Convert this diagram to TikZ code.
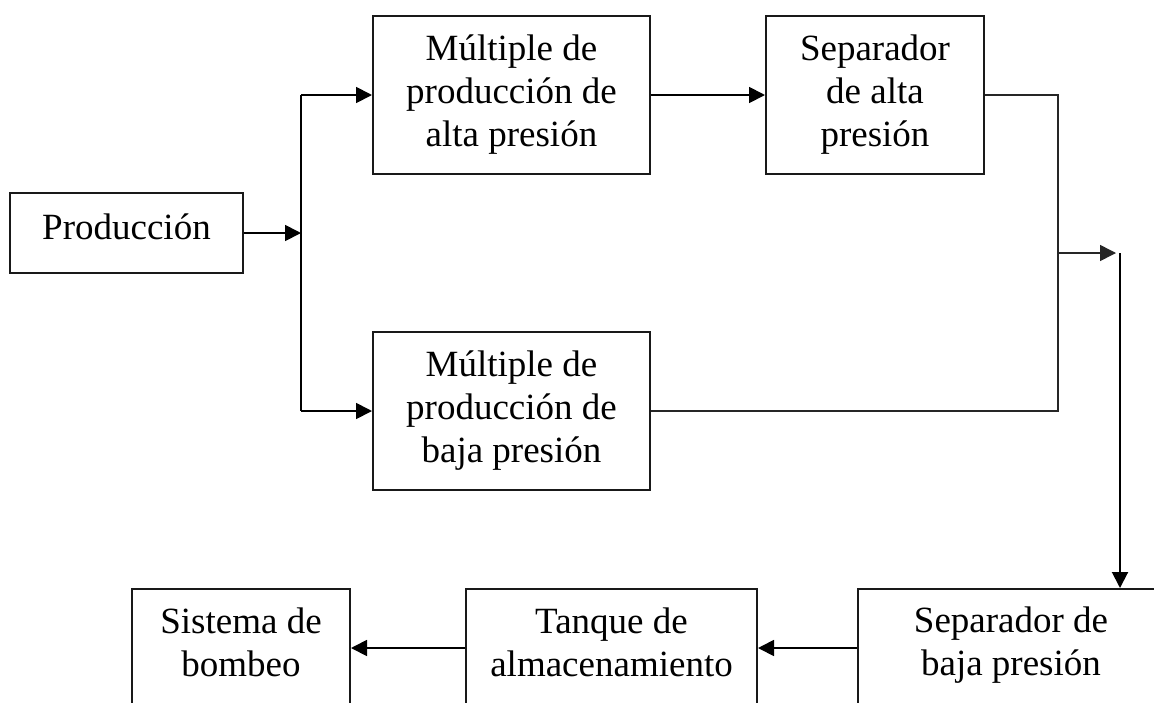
\documentclass[tikz,border=0pt]{standalone}
\usepackage{fontspec}
\setmainfont{Liberation Serif}
\usetikzlibrary{arrows.meta}
\tikzset{
  box/.style={draw=black!90, line width=2pt, rectangle, inner sep=0pt, align=center,
    font=\fontsize{37}{43}\selectfont},
  conn/.style={draw=black, line width=1.8pt},
  thin conn/.style={draw=black!85, line width=1.5pt},
  tip/.style={-{Triangle[length=16pt,width=16pt]}},
  arr/.style={conn, tip},
}
\begin{document}
\begin{tikzpicture}[x=1pt, y=-1pt]
\useasboundingbox (0,0) rectangle (1154,702);
\clip (0,0) rectangle (1154,702);
\fill[white] (0,0) rectangle (1154,702);

\node[box, minimum width=233pt, minimum height=80pt, text depth=13pt] (prod) at (126.5,233) {Producción};
\node[box, minimum width=277pt, minimum height=158pt] (mpa) at (511.5,95) {Múltiple de\\producción de\\alta presión};
\node[box, minimum width=218pt, minimum height=158pt] (sepa) at (875,95) {Separador\\de alta\\presión};
\node[box, minimum width=277pt, minimum height=158pt] (mpb) at (511.5,411) {Múltiple de\\producción de\\baja presión};
\node[box, minimum width=306pt, minimum height=118pt, text depth=13pt] (sepb) at (1011,648) {Separador de\\baja presión};
\node[box, minimum width=291pt, minimum height=118pt, text depth=12pt] (tanque) at (611.5,648) {Tanque de\\almacenamiento};
\node[box, minimum width=218pt, minimum height=118pt, text depth=12pt] (sistema) at (241,648) {Sistema de\\bombeo};

\coordinate (j1) at (301,233);
\coordinate (j1t) at (301,95);
\coordinate (j1b) at (301,411);
\coordinate (r1) at (1058,95);
\coordinate (r2) at (1058,411);
\coordinate (rm) at (1058,253);
\coordinate (vtop) at (1120,253);

\draw[conn] (j1t) -- (j1b);
\draw[arr] (prod.east) -- (j1);
\draw[arr] (j1t) -- (mpa.west);
\draw[arr] (j1b) -- (mpb.west);
\draw[arr] (mpa.east) -- (sepa.west);
\draw[thin conn] (sepa.east) -- (r1) -- (r2) -- (mpb.east);
\draw[thin conn, tip, shorten >=4pt] (rm) -- (vtop);
\draw[arr, line width=2pt] (vtop) -- (vtop |- sepb.north);
\draw[arr] (sepb.west) -- (tanque.east);
\draw[arr] (tanque.west) -- (sistema.east);
\end{tikzpicture}
\end{document}
